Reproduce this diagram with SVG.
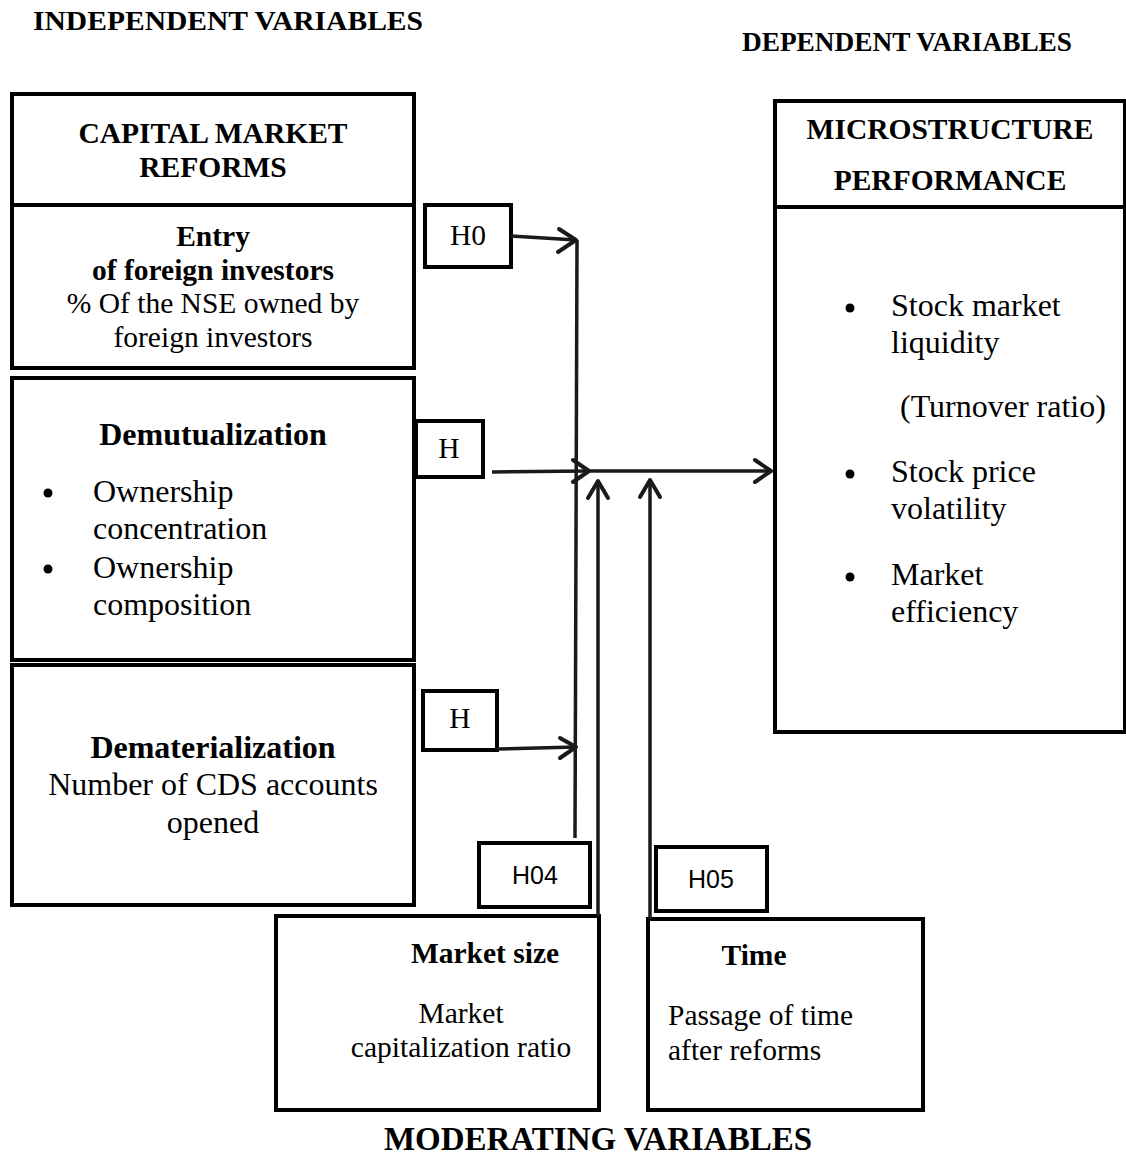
<svg xmlns="http://www.w3.org/2000/svg" width="1126" height="1155" viewBox="0 0 1126 1155">
<style>
.box{fill:none;stroke:#000;stroke-width:4}
.ln{fill:none;stroke:#1a1a1a;stroke-width:3.5}
.ah{fill:none;stroke:#1a1a1a;stroke-width:4;stroke-linecap:round;stroke-linejoin:round}
text{font-family:"Liberation Serif","Times New Roman",serif;fill:#000}
.b{font-weight:bold}
.t26{font-size:29.5px}
.t28{font-size:32px}
.c{text-anchor:middle}
.s{font-family:"Liberation Sans",Arial,sans-serif;font-size:25px}
</style>
<rect width="1126" height="1155" fill="#fff"/>
<g id="titles">
<text x="33" y="30" class="b" font-size="28" textLength="390" lengthAdjust="spacingAndGlyphs">INDEPENDENT VARIABLES</text>
<text x="742" y="51" class="b" font-size="27" textLength="330" lengthAdjust="spacingAndGlyphs">DEPENDENT VARIABLES</text>
<text x="598" y="1150" class="b c" font-size="33">MODERATING VARIABLES</text>
</g>
<g id="capital-market-reforms">
<rect class="box" x="12" y="94" width="402" height="111"/>
<text x="213" y="143" class="b c t26">CAPITAL MARKET</text>
<text x="213" y="177" class="b c t26">REFORMS</text>
</g>
<g id="entry-foreign">
<rect class="box" x="12" y="205" width="402" height="163"/>
<text x="213" y="246" class="b c t26">Entry</text>
<text x="213" y="280" class="b c t26">of foreign investors</text>
<text x="213" y="313" class="c t26">% Of the NSE owned by</text>
<text x="213" y="347" class="c t26">foreign investors</text>
</g>
<g id="demutualization">
<rect class="box" x="12" y="378" width="402" height="282"/>
<text x="213" y="445" class="b c t28">Demutualization</text>
<circle cx="48" cy="493" r="4.5"/>
<text x="93" y="502" class="t28">Ownership</text>
<text x="93" y="539" class="t28">concentration</text>
<circle cx="48" cy="569" r="4.5"/>
<text x="93" y="578" class="t28">Ownership</text>
<text x="93" y="615" class="t28">composition</text>
</g>
<g id="dematerialization">
<rect class="box" x="12" y="665" width="402" height="240"/>
<text x="213" y="758" class="b c t28">Dematerialization</text>
<text x="213" y="795" class="c t28">Number of CDS accounts</text>
<text x="213" y="833" class="c t28">opened</text>
</g>
<g id="microstructure-performance">
<rect class="box" x="775" y="101" width="350" height="631"/>
<line class="box" x1="775" y1="207" x2="1125" y2="207"/>
<text x="950" y="139" class="b c t26">MICROSTRUCTURE</text>
<text x="950" y="190" class="b c t26">PERFORMANCE</text>
<circle cx="850" cy="308" r="4.5"/>
<text x="891" y="316" class="t28">Stock market</text>
<text x="891" y="353" class="t28">liquidity</text>
<text x="900" y="417" class="t28">(Turnover ratio)</text>
<circle cx="850" cy="474" r="4.5"/>
<text x="891" y="482" class="t28">Stock price</text>
<text x="891" y="519" class="t28">volatility</text>
<circle cx="850" cy="577" r="4.5"/>
<text x="891" y="585" class="t28">Market</text>
<text x="891" y="622" class="t28">efficiency</text>
</g>
<g id="h0">
<rect class="box" x="425" y="205" width="86" height="62"/>
<text x="468" y="245" class="c t26">H0</text>
</g>
<g id="h-demut">
<rect class="box" x="416" y="421" width="67" height="56"/>
<text x="449" y="458" class="c t26">H</text>
</g>
<g id="h-demat">
<rect class="box" x="423" y="691" width="74" height="59"/>
<text x="460" y="728" class="c t26">H</text>
</g>
<g id="h04">
<rect class="box" x="479" y="843" width="111" height="64"/>
<text x="535" y="884" class="c s">H04</text>
</g>
<g id="h05">
<rect class="box" x="656" y="847" width="111" height="64"/>
<text x="711" y="888" class="c s">H05</text>
</g>
<g id="market-size">
<rect class="box" x="276" y="916" width="323" height="194"/>
<text x="485" y="963" class="b c t26">Market size</text>
<text x="461" y="1023" class="c t26">Market</text>
<text x="461" y="1057" class="c t26">capitalization ratio</text>
</g>
<g id="time">
<rect class="box" x="648" y="919" width="275" height="191"/>
<text x="754" y="965" class="b c t26">Time</text>
<text x="668" y="1025" class="t26">Passage of time</text>
<text x="668" y="1060" class="t26">after reforms</text>
</g>
<g id="connectors">
<line class="ln" x1="577" y1="240" x2="575" y2="838"/>
<line class="ln" x1="511" y1="236" x2="576" y2="240"/>
<polyline class="ah" points="559,229 576,240 558,252"/>
<line class="ln" x1="492" y1="472" x2="589" y2="471"/>
<polyline class="ah" points="573,460 589,471 573,482"/>
<line class="ln" x1="589" y1="471" x2="771" y2="471"/>
<polyline class="ah" points="755,460 771,471 755,482"/>
<line class="ln" x1="497" y1="749" x2="576" y2="747"/>
<polyline class="ah" points="560,738 576,747 560,758"/>
<line class="ln" x1="598" y1="916" x2="598" y2="482"/>
<polyline class="ah" points="588,498 598,481 608,498"/>
<line class="ln" x1="650" y1="919" x2="650" y2="480"/>
<polyline class="ah" points="640,497 650,480 660,497"/>
</g>
</svg>
